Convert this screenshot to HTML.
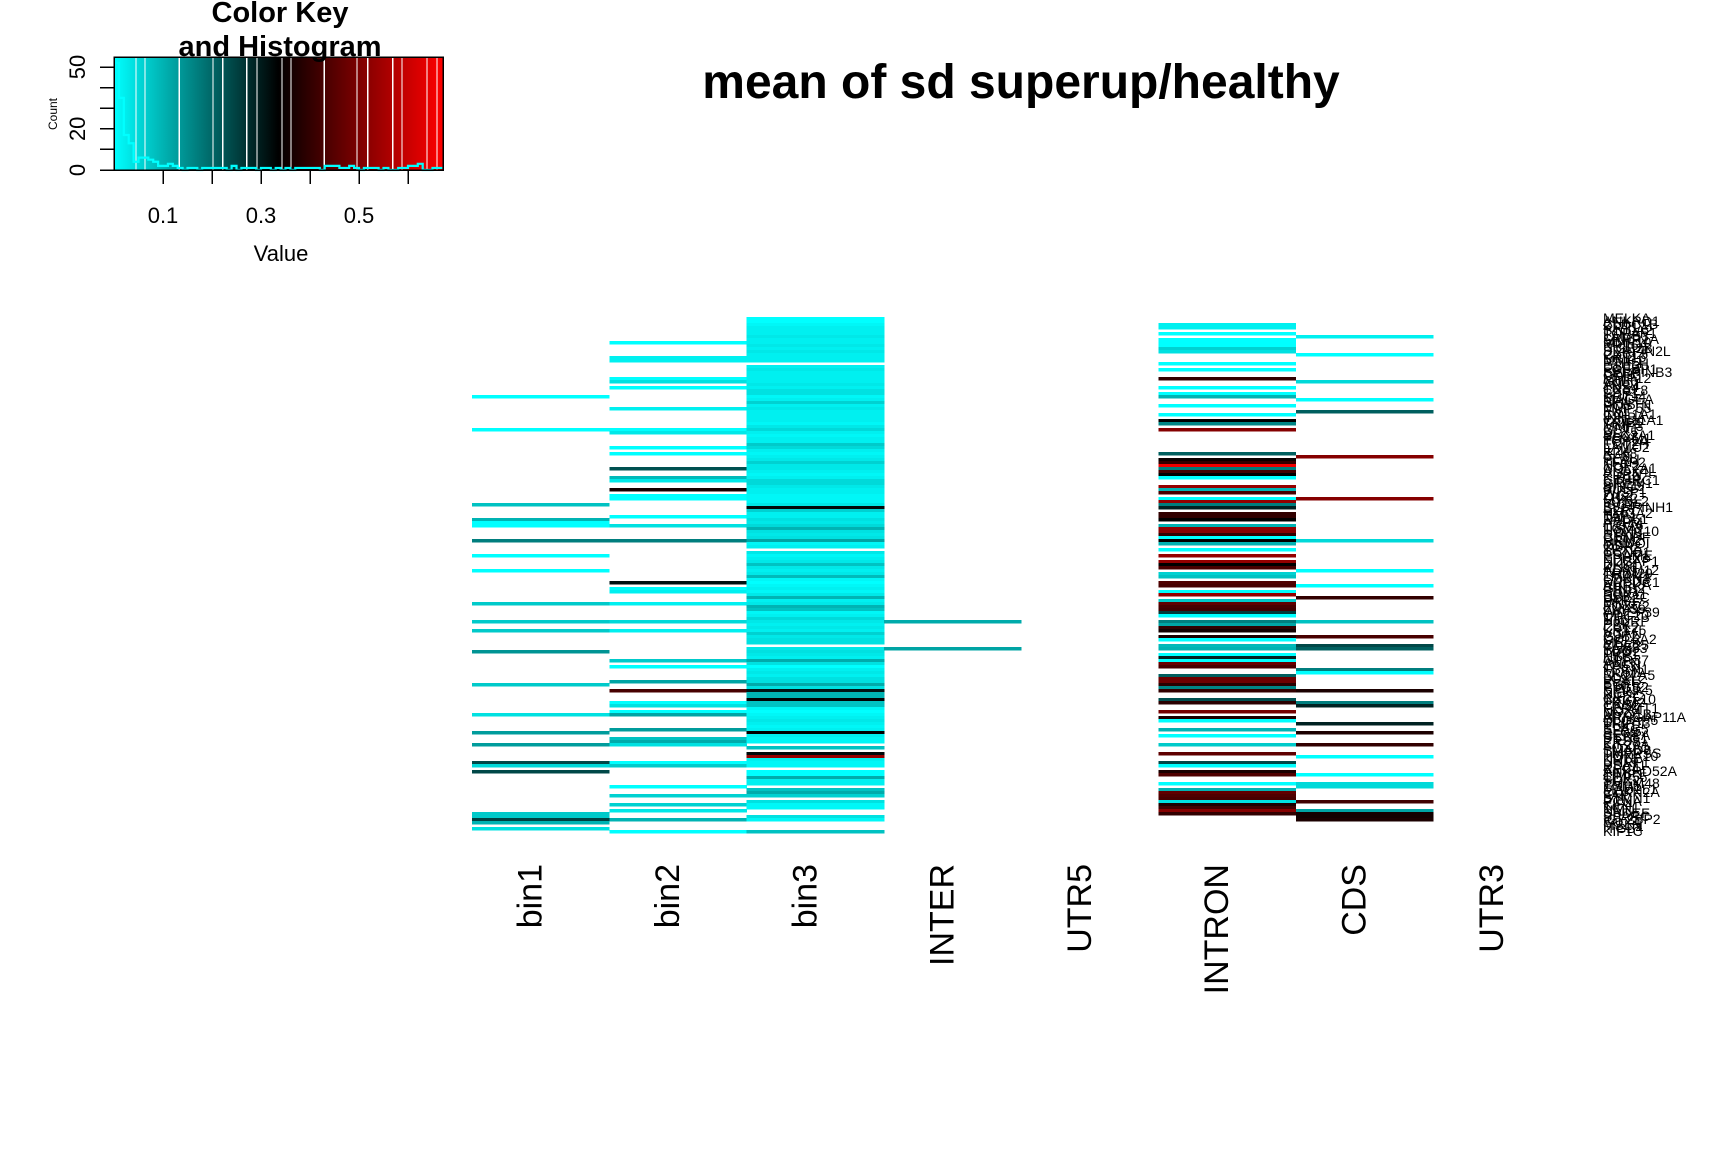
<!DOCTYPE html>
<html><head><meta charset="utf-8"><title>mean of sd superup/healthy</title>
<style>html,body{margin:0;padding:0;background:#fff;}svg{display:block;font-family:"Liberation Sans",sans-serif;}</style>
</head><body>
<svg id="chart" width="1728" height="1152" viewBox="0 0 1728 1152" shape-rendering="crispEdges"></svg>
<script>
// ---- data ----
const columns = ["bin1","bin2","bin3","INTER","UTR5","INTRON","CDS","UTR3"];
const nRows = 172;
const bin1Rows=[26,37,62,67,68,69,74,79,84,95,101,104,111,122,132,138,142,148,149,151,165,166,167,168,170];
const bin1Vals=[0,0,0.08,0.10,0,0,0.17,0,0,0.07,0.07,0.07,0.14,0.07,0.04,0.13,0.13,0.24,0.05,0.24,0.07,0.07,0.25,0.10,0.04];
const bin2Rows=[8,13,14,20,21,23,30,37,38,43,45,50,53,54,57,59,60,66,69,74,88,90,91,95,101,104,114,116,121,124,128,129,131,132,137,140,141,142,148,149,156,159,162,164,167,171];
const bin2Vals=[0,0.02,0.02,0,0.04,0,0.02,0,0.03,0,0,0.23,0.09,0.03,0.36,0,0,0,0.04,0.17,0.31,0,0.02,0.02,0.05,0.02,0.07,0,0.12,0.43,0,0.04,0,0.12,0.13,0.08,0.11,0.04,0,0.07,0,0.06,0.06,0.03,0.10,0];
const bin3Vals=[0,0,0.01,0.02,0.02,0.02,0.03,0.02,0.02,0.03,
0.02,0.03,0.02,0.02,0.02,null,0.02,0.03,0.02,0.02,
0.02,0.02,0.03,0.02,0.04,0.04,0.01,0.02,0.06,0.02,
0.03,0.02,0.02,0.02,0.02,0.01,0.03,0.05,0.02,0.01,
0.02,0.02,0.07,0.05,0.02,0.01,0.02,0.03,0.06,0.03,
0.03,0.02,0.01,0.02,0.05,0.05,0.03,0.02,0.02,0.01,
0.01,0.01,0.03,0.32,0.06,0.02,0.02,0.04,0.03,0.05,
0.10,0.04,0.03,0.04,0.12,0.01,0.02,null,0.03,0.01,
0.02,0.03,0.08,0.03,0.02,0.03,0.09,0.01,0,0.01,
0.02,0.01,0.03,0.10,0.02,0.03,0.10,0.08,0.01,0.02,
0.05,0.03,0.02,0.03,0.02,0.06,0.03,0.04,0.04,null,
0.03,0.04,0.03,0.02,0.11,0.04,0,0.02,0.03,0.02,
0.04,0.04,0.11,0.04,0.31,0.10,0.10,0.335,0.08,0.08,
0.01,0,0.01,0.02,0.03,0.02,0.01,0.02,0.335,0.02,
0.01,0.01,null,0.08,null,0.32,0.53,0.02,0.01,0.01,
null,0,0,0.11,0.02,0.02,null,0.08,0.11,0.06,
null,0.04,0.01,0.01,null,null,0.04,0.01,null,null,
null,0.08];
const interRows=[101,110];
const interVals=[0.11,0.12];
const intronRows=[2,3,5,7,8,9,10,11,15,17,20,23,25,26,29,32,34,35,37,45,47,48,49,50,51,52,53,56,57,58,60,61,62,63,65,66,67,69,70,71,72,73,74,75,77,79,81,82,83,85,86,88,89,91,92,94,95,96,97,98,99,101,102,103,104,106,107,109,110,112,113,114,115,116,119,120,121,122,123,124,127,128,131,133,134,137,139,142,145,148,149,151,152,155,157,158,159,160,161,162,163,164,165];
const intronVals=[0.02,0.02,0,0,0,0,0.06,0.04,0,0,0.40,0,0,0.10,0,0,0.335,0.16,0.51,0.21,0.35,0.40,0.65,0.17,0.42,0.335,0,0.53,0.10,0.43,0,0.53,0.17,0.29,0.40,0.40,0.335,0.10,0.53,0.51,0.40,0,0.335,0.10,0,0.53,0.53,0.335,0.43,0.06,0.08,0.44,0.43,0,0.53,0.07,0.46,0.43,0.42,0.26,0,0.17,0.12,0.40,0.36,0.37,0,0.09,0.10,0,0.29,0,0.47,0.43,0.21,0.48,0.48,0.39,0.16,0.40,0.23,0.39,0.49,0.37,0,0.10,0,0.07,0.46,0.24,0,0.37,0.44,0,0.10,0.46,0.44,0.43,0.04,0.37,0.42,0.51,0.40];
const cdsRows=[6,12,21,27,31,46,60,74,84,89,93,101,106,109,110,117,118,124,128,129,135,138,142,146,152,155,156,161,164,165,166,167];
const cdsVals=[0.02,0,0.05,0,0.21,0.51,0.51,0.05,0,0,0.40,0.08,0.43,0.24,0.21,0.17,0,0.37,0.17,0.29,0.29,0.37,0.40,0,0,0.05,0.05,0.42,0.12,0.36,0.36,0.37];
const geneLabels=("MELKA ANKRD1 CLDC1B KRT17 S100A2 TOPAP1 LAMB3 SPRR1A MMP10 KRT6A ITGB2B SERPIN2L CXCL5 KRT16 MMP1 PTHLH DSC3 FGFBP1 SERPINB3 CDH3 MMP12 GJB6 ANO1 TNS4 CXCL8 SPP1 KRT14 MAGEA SFN POSTN MMP55 FN1 COL1A1 INHBA COL11A1 TRIP1 MMP3 CST1 DLX5 SLC2A1 FOXM1 TOP2A ECT2H LAMC2 IL24 KLK8 CA9 PLAU TFAP2 NUF2 COL7A1 ALOX4L PDPN KIF14 CTHRC1 GREM1 BIRC5 SULF1 WISP1 ZIC2 LHX2 MYBL2 ISG15 SERPINH1 E2F7 HMGA2 TAP1 RAD51 ASPM ITGA6 TGM3 HOXC10 STAT1 CENPF RRM2 MNDOI OSR2 TPX2 CCNB1 PRAME EPHX3 NUSAP1 DKK1 KLK6 ADAM12 TRIM29 LMAN1 CDKN3 DEPDC1 AURKA GINS2 BUB1 SOX11 UBE2C PAP1 MKI67 FOXC2 ZNF39 WDEF39 CDC20 TTK HJURP PBK CCL2 KRT75 VCAN GJB2 COL5A2 MELK CDC25 FAM83 TDO2 PKP1 NTS GPR87 ANLN TP53 FSCN1 MCM2 SLC7A5 LOXL2 PLAT EGFR PTGS2 SPINK5 NEK2 KIF2C CXCL10 TRIM2 CKS2 FERMT1 NOX4 MYO1B ARHGAP11A DLGAP5 TRIP13 PLK1 SPAG5 SLG2 CENPA PTTG1 PRSS KIF20A FOXA1 SMAD3 TMPRSS HOXA10 KRT5 UHRF1 PSAT1 RFC4 ANKRD52A TIMP1 CEP55 SOX2 TMEM48 ESM1 MAD2L1 CDKN2A FAP STMN1 PCNA KIF4 TCN1 NMU SPDEF SPARC IGF2BP2 SOX4 MSLN ITGB4 KIF1C GPX2 CXCL1 FOXL4 KRT4 SPRR3 CSTA SERPINB5").split(" ");
const keyTicks=[0.1,0.2,0.3,0.4,0.5,0.6];
const keyTickLabels=["0.1","0.3","0.5"];
const keyTickLabelVals=[0.1,0.3,0.5];
const countTicks=[0,10,20,30,40,50];
const countLabels=["0","20","50"];
const countLabelVals=[0,20,50];
const histCounts=[52,35,17,13,4,6,6,5,4,2,2,3,2,1,0,1,1,0,1,1,1,1,1,0,2,0,1,1,1,0,1,1,0,1,0,1,0,1,1,1,1,1,0,2,2,2,1,1,2,1,0,1,1,1,0,1,0,0,1,1,2,2,3,0,0,1,1];
const keyLines=[0.045,0.063,0.133,0.202,0.222,0.271,0.292,0.343,0.361,0.429,0.496,0.518,0.569,0.588,0.639,0.659];

// ---- layout ----
const NS="http://www.w3.org/2000/svg";
const svg=document.getElementById('chart');
const hmLeft=472, colW=137.3, hmTop=317, rowH=3.0;
const vMax=0.67, vMid=0.335;
function colX(c){return hmLeft+c*colW;}
function rowY(r){return hmTop+r*rowH;}
function colorOf(v){
  if(v<=vMid){const g=Math.round(255*(1-v/vMid));return `rgb(0,${g},${g})`;}
  const r=Math.round(255*Math.min(1,(v-vMid)/(vMax-vMid)));return `rgb(${r},0,0)`;
}
function mk(tag,attrs,parent){const e=document.createElementNS(NS,tag);for(const k in attrs)e.setAttribute(k,attrs[k]);(parent||svg).appendChild(e);return e;}

// heatmap
const hm=mk('g',{});


function drawCell(c,r,v){
  const rc=mk('rect',{x:colX(c),y:rowY(r),width:colW+0.4,height:rowH+0.3,fill:colorOf(v)},hm);
  
  
}
function drawSparse(c,rows,vals){rows.forEach((r,i)=>drawCell(c,r,vals[i]));}
drawSparse(0,bin1Rows,bin1Vals);
drawSparse(1,bin2Rows,bin2Vals);
bin3Vals.forEach((v,r)=>{if(v!==null)drawCell(2,r,v);});
drawSparse(3,interRows,interVals);
drawSparse(5,intronRows,intronVals);
drawSparse(6,cdsRows,cdsVals);

// column labels
columns.forEach((name,c)=>{
  const cx=colX(c)+colW/2+1, ty=864;
  const t=mk('text',{x:cx,y:ty,transform:`rotate(-90 ${cx} ${ty})`,'text-anchor':'end','font-size':34,fill:'#000'});
  t.textContent=name;
  
  
});

// row labels
const rl=mk('g',{});


geneLabels.slice(0,nRows).forEach((g,r)=>{
  const t=mk('text',{x:1603,y:rowY(r)+rowH/2+4.5,'font-size':14,fill:'#000'},rl);
  t.textContent=g;
  
  
});

// title
const title=mk('text',{x:1021,y:98,'text-anchor':'middle','font-size':48,'font-weight':'bold',fill:'#000'});
title.textContent='mean of sd superup/healthy';



// ---- color key ----
const kL=114,kR=443,kT=57,kB=170;
function kx(v){return kL+v*490;}
function ky(n){return kB-n*2.06;}
const key=mk('g',{});


const defs=mk('defs',{});
const lg=mk('linearGradient',{id:'kg',x1:0,x2:1,y1:0,y2:0},defs);
mk('stop',{offset:0,'stop-color':'rgb(0,255,255)'},lg);
mk('stop',{offset:(kx(vMid)-kL)/(kR-kL),'stop-color':'#000'},lg);
mk('stop',{offset:1,'stop-color':'rgb(255,0,0)'},lg);
const kr=mk('rect',{x:kL,y:kT,width:kR-kL,height:kB-kT,fill:'url(#kg)'},key);


keyLines.forEach(v=>{
  const l=mk('line',{x1:kx(v),x2:kx(v),y1:kT,y2:kB,stroke:'#fff','stroke-width':1.2},key);
  
  
});
let d='';
histCounts.forEach((n,i)=>{const x0=kx(i*0.01),x1=Math.min(kx((i+1)*0.01),kR),y=ky(n);d+=(i===0?`M${x0},${y}`:`L${x0},${y}`)+`L${x1},${y}`;});
const hp=mk('path',{d:d,fill:'none',stroke:'rgb(0,255,255)','stroke-width':2.2,'shape-rendering':'auto'},key);


const kbox=mk('rect',{x:kL,y:kT,width:kR-kL,height:kB-kT,fill:'none',stroke:'#000','stroke-width':1.5},key);


keyTicks.forEach(v=>{
  const l=mk('line',{x1:kx(v),x2:kx(v),y1:kB,y2:kB+14,stroke:'#000','stroke-width':1.5},key);
  
  
});
keyTickLabels.forEach((s,i)=>{
  const t=mk('text',{x:kx(keyTickLabelVals[i]),y:223,'text-anchor':'middle','font-size':22},key);
  t.textContent=s;
  
  
});
countTicks.forEach(n=>{
  const l=mk('line',{x1:100,x2:kL,y1:ky(n),y2:ky(n),stroke:'#000','stroke-width':1.5},key);
  
  
});
countLabels.forEach((s,i)=>{
  const y=ky(countLabelVals[i]),x=85;
  const t=mk('text',{x:x,y:y,transform:`rotate(-90 ${x} ${y})`,'text-anchor':'middle','font-size':22},key);
  t.textContent=s;
  
  
});
const cl=mk('text',{x:57,y:114,transform:'rotate(-90 57 114)','text-anchor':'middle','font-size':12},key);
cl.textContent='Count';


const vl=mk('text',{x:281,y:261,'text-anchor':'middle','font-size':22},key);
vl.textContent='Value';


const kt1=mk('text',{x:280,y:22,'text-anchor':'middle','font-size':29,'font-weight':'bold'},key);
kt1.textContent='Color Key';


const kt2=mk('text',{x:280,y:56,'text-anchor':'middle','font-size':29,'font-weight':'bold'},key);
kt2.textContent='and Histogram';


</script>
</body></html>
